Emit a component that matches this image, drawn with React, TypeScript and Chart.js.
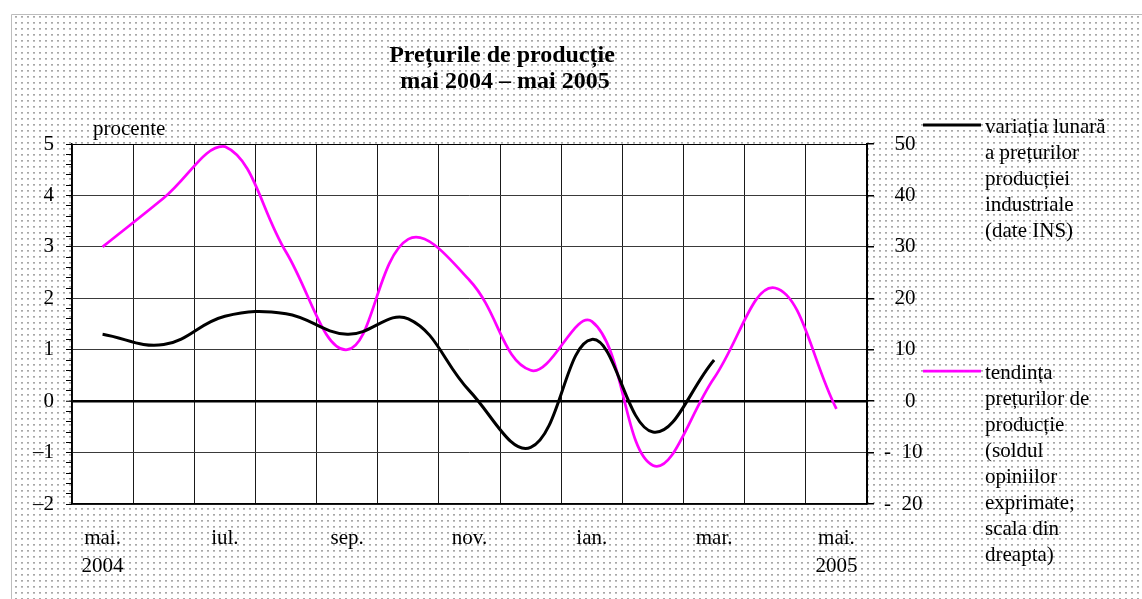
import React, { useEffect, useRef } from "react";
import { Chart, registerables } from "chart.js";

Chart.register(...registerables);

const FONT = "'Liberation Serif', 'Times New Roman', serif";

const months = [
  "mai 2004", "iun 2004", "iul 2004", "aug 2004", "sep 2004", "oct 2004", "nov 2004",
  "dec 2004", "ian 2005", "feb 2005", "mar 2005", "apr 2005", "mai 2005",
];
const xTickLabels: (string | string[])[] = [
  ["mai.", "2004"], "", "iul.", "", "sep.", "", "nov.", "", "ian.", "", "mar.", "", ["mai.", "2005"],
];
// variația lunară a prețurilor producției industriale (%), left scale
const variatiaLunara = [1.3, 1.1, 1.65, 1.7, 1.3, 1.6, 0.2, -0.9, 1.2, -0.6, 0.8];
// tendința prețurilor de producție (sold), right scale
const tendinta = [30, 39.5, 49.5, 29, 10, 31.5, 23.5, 6, 15.5, -12.5, 4.5, 22, -1.5];

const leftTickValues = [-2, -1, 0, 1, 2, 3, 4, 5];
const leftTickLabels = ["–2", "–1", "0", "1", "2", "3", "4", "5"];
const rightTickValues = [-20, -10, 0, 10, 20, 30, 40, 50];
const rightTickLabels = ["-  20", "-  10", "    0", "  10", "  20", "  30", "  40", "  50"];

const titleLines = ["Prețurile de producție", "mai 2004 – mai 2005"];
const legend1Lines = ["variația lunară", "a prețurilor", "producției", "industriale", "(date INS)"];
const legend2Lines = [
  "tendința", "prețurilor de", "producție", "(soldul", "opiniilor", "exprimate;", "scala din", "dreapta)",
];
const yUnitLabel = "procente";

const isInt = (v: number) => Math.abs(v - Math.round(v)) < 1e-6;

function makePattern(ctx: CanvasRenderingContext2D) {
  const c = document.createElement("canvas");
  c.width = 6;
  c.height = 6;
  const p = c.getContext("2d")!;
  p.fillStyle = "#ffffff";
  p.fillRect(0, 0, 6, 6);
  p.fillStyle = "#a8a8a8";
  p.fillRect(3, 4, 2, 1);
  p.fillStyle = "#c4c4c4";
  p.fillRect(3, 5, 2, 1);
  return ctx.createPattern(c, "repeat");
}

const backgroundPlugin = {
  id: "bgPattern",
  beforeDraw(chart: any) {
    const { ctx, width, height, chartArea } = chart;
    ctx.save();
    ctx.fillStyle = "#ffffff";
    ctx.fillRect(0, 0, width, height);
    const pat = makePattern(ctx);
    if (pat) {
      ctx.fillStyle = pat;
      ctx.fillRect(12, 15, width - 12, height - 15);
    }
    ctx.strokeStyle = "#bdbdbd";
    ctx.lineWidth = 1;
    ctx.beginPath();
    ctx.moveTo(11.5, height);
    ctx.lineTo(11.5, 14.5);
    ctx.lineTo(width, 14.5);
    ctx.stroke();
    ctx.fillStyle = "#ffffff";
    ctx.fillRect(chartArea.left, chartArea.top, chartArea.right - chartArea.left, chartArea.bottom - chartArea.top);
    ctx.restore();
  },
};

const textPlugin = {
  id: "texts",
  afterDraw(chart: any) {
    const { ctx } = chart;
    ctx.save();
    ctx.fillStyle = "#000";
    // title
    ctx.font = `bold 24px ${FONT}`;
    ctx.textAlign = "center";
    ctx.textBaseline = "alphabetic";
    ctx.fillText(titleLines[0], 502, 62);
    ctx.fillText(titleLines[1], 505, 88);
    // unit
    ctx.font = `21px ${FONT}`;
    ctx.textAlign = "left";
    ctx.fillText(yUnitLabel, 93, 135);
    // legend
    ctx.textBaseline = "middle";
    ctx.lineWidth = 3;
    ctx.strokeStyle = "#000";
    ctx.beginPath();
    ctx.moveTo(923, 125);
    ctx.lineTo(981, 125);
    ctx.stroke();
    legend1Lines.forEach((t, i) => ctx.fillText(t, 985, 127 + i * 26.2));
    ctx.strokeStyle = "#ff00ff";
    ctx.lineWidth = 2.75;
    ctx.beginPath();
    ctx.moveTo(923, 371);
    ctx.lineTo(981, 371);
    ctx.stroke();
    legend2Lines.forEach((t, i) => ctx.fillText(t, 985, 373 + i * 26.1));
    ctx.restore();
  },
};

export default function App() {
  const ref = useRef<HTMLCanvasElement | null>(null);

  useEffect(() => {
    document.body.style.margin = "0";
    const canvas = ref.current;
    if (!canvas) return;
    const chart = new Chart(canvas, {
      type: "line",
      data: {
        labels: months,
        datasets: [
          {
            label: "variația lunară a prețurilor producției industriale (date INS)",
            data: variatiaLunara,
            yAxisID: "y",
            borderColor: "#000000",
            borderWidth: 3,
            pointRadius: 0,
            tension: 0.4,
            fill: false,
          },
          {
            label: "tendința prețurilor de producție",
            data: tendinta,
            yAxisID: "y1",
            borderColor: "#ff00ff",
            borderWidth: 2.75,
            pointRadius: 0,
            tension: 0.4,
            fill: false,
          },
        ],
      },
      options: {
        responsive: false,
        animation: false,
        devicePixelRatio: 1,
        layout: { padding: { top: 144, left: 0, right: 0, bottom: 0 } },
        plugins: {
          legend: { display: false },
          title: { display: false },
          tooltip: { enabled: false },
        },
        scales: {
          x: {
            type: "category",
            offset: true,
            grid: {
              offset: true,
              color: "#1a1a1a",
              lineWidth: 1,
              drawTicks: false,
            },
            border: { display: true, color: "#000", width: 1.5 },
            ticks: {
              autoSkip: false,
              maxRotation: 0,
              minRotation: 0,
              padding: 20,
              color: "#000",
              font: { family: FONT, size: 21, lineHeight: 1.333 },
              callback: (_v: any, i: number) => xTickLabels[i],
            },
            afterFit: (s: any) => {
              s.height = 95;
            },
          },
          y: {
            position: "left",
            min: -2,
            max: 5,
            ticks: {
              stepSize: 0.2,
              autoSkip: false,
              padding: 12,
              color: "#000",
              font: { family: FONT, size: 21 },
              callback: (v: any) => {
                const n = Number(v);
                if (!isInt(n)) return "";
                const idx = leftTickValues.indexOf(Math.round(n));
                return idx >= 0 ? leftTickLabels[idx] : "";
              },
            },
            grid: {
              color: (c: any) => {
                const v = c.tick ? c.tick.value : 0;
                if (!isInt(v)) return "rgba(0,0,0,0)";
                if (Math.round(v) === 0 || Math.round(v) === 5) return "#000";
                return "#3a3a3a";
              },
              lineWidth: (c: any) => {
                const v = c.tick ? c.tick.value : 1;
                return Math.abs(v) < 1e-6 ? 2.5 : 1;
              },
              tickColor: "#000",
              tickWidth: 1,
              tickLength: 6,
            },
            border: { display: true, color: "#000", width: 1.5 },
            afterFit: (s: any) => {
              s.width = 72;
            },
          },
          y1: {
            position: "right",
            min: -20,
            max: 50,
            ticks: {
              stepSize: 10,
              autoSkip: false,
              padding: 10,
              crossAlign: "near",
              color: "#000",
              font: { family: FONT, size: 21 },
              callback: (v: any) => {
                const idx = rightTickValues.indexOf(Math.round(Number(v)));
                return idx >= 0 ? rightTickLabels[idx] : "";
              },
            },
            grid: {
              drawOnChartArea: false,
              color: "#000",
              tickLength: 7,
              lineWidth: 1.5,
            },
            border: { display: true, color: "#000", width: 2 },
            afterFit: (s: any) => {
              s.width = 275;
            },
          },
        },
      } as any,
      plugins: [backgroundPlugin, textPlugin],
    });
    return () => chart.destroy();
  }, []);

  return (
    <div style={{ position: "fixed", left: 0, top: 0, width: 1142, height: 599 }}>
      <canvas ref={ref} width={1142} height={599} style={{ display: "block" }} />
    </div>
  );
}
